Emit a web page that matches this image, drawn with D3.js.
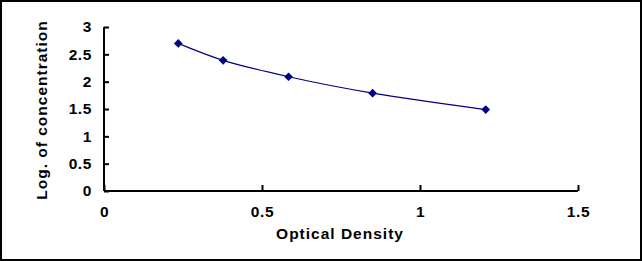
<!DOCTYPE html>
<html>
<head>
<meta charset="utf-8">
<script src="https://cdn.jsdelivr.net/npm/d3@7"></script>
<style>
  body { margin: 0; background: #fff; }
  svg { display: block; font-family: "Liberation Sans", Arial, sans-serif; }
</style>
</head>
<body>
<svg id="chart"></svg>
<script>
// data
const od = [0.235, 0.377, 0.584, 0.85, 1.208];
const logConc = [2.7, 2.39, 2.09, 1.79, 1.49];
const xTicks = [0, 0.5, 1, 1.5];
const yTicks = [0, 0.5, 1, 1.5, 2, 2.5, 3];

const W = 642, H = 261;
const margin = {top: 27, right: 64, bottom: 70, left: 104};
const width = W - margin.left - margin.right;
const height = H - margin.top - margin.bottom;

const svg = d3.select('#chart').attr('width', W).attr('height', H);

// outer border
svg.append('rect')
    .attr('x', 1).attr('y', 1)
    .attr('width', W - 2).attr('height', H - 2)
    .attr('fill', 'white')
    .attr('stroke', 'black')
    .attr('stroke-width', 2);

const g = svg.append('g')
    .attr('transform', `translate(${margin.left},${margin.top})`);

const xScale = d3.scaleLinear().domain([0, 1.5]).range([0, width]);
const yScale = d3.scaleLinear().domain([0, 3]).range([height, 0]);

// X axis (ticks pointing up)
const xAxis = g.append('g')
    .attr('transform', `translate(0,${height})`)
    .call(d3.axisBottom(xScale).tickValues(xTicks).tickSize(-6).tickPadding(15).tickFormat(d3.format('')));

// Y axis (ticks pointing right)
const yAxis = g.append('g')
    .call(d3.axisLeft(yScale).tickValues(yTicks).tickSize(-5).tickPadding(12).tickFormat(d3.format('')));

[xAxis, yAxis].forEach(ax => {
    ax.select('.domain').attr('stroke', 'black').attr('stroke-width', 2);
    ax.selectAll('.tick line').attr('stroke', 'black').attr('stroke-width', 2);
    ax.selectAll('.tick text')
        .attr('fill', 'black')
        .style('font-size', '15.5px')
        .style('font-weight', 'bold')
        .style('letter-spacing', '0.6px');
});
xAxis.select('.domain').attr('d', `M0,0H${width}`);
yAxis.select('.domain').attr('d', `M0,0V${height}`);

// axis titles
g.append('text')
    .attr('x', 236)
    .attr('y', height + 48)
    .attr('text-anchor', 'middle')
    .style('font-size', '15.5px')
    .style('font-weight', 'bold')
    .style('letter-spacing', '1px')
    .text('Optical Density');

g.append('text')
    .attr('transform', 'rotate(-90)')
    .attr('x', -height / 2 - 1)
    .attr('y', -57)
    .attr('text-anchor', 'middle')
    .style('font-size', '15.5px')
    .style('font-weight', 'bold')
    .style('letter-spacing', '1px')
    .text('Log. of concentration');

// curve
const points = od.map((d, i) => [d, logConc[i]]);
const line = d3.line()
    .x(d => xScale(d[0]))
    .y(d => yScale(d[1]))
    .curve(d3.curveCatmullRom);

g.append('path')
    .datum(points)
    .attr('d', line)
    .attr('fill', 'none')
    .attr('stroke', '#000080')
    .attr('stroke-width', 1.2);

// diamond markers
g.selectAll('.pt')
    .data(points)
    .enter()
    .append('path')
    .attr('class', 'pt')
    .attr('transform', d => `translate(${xScale(d[0])},${yScale(d[1])})`)
    .attr('d', d3.symbol(d3.symbolDiamond2, 48))
    .attr('fill', '#000080');
</script>
</body>
</html>
